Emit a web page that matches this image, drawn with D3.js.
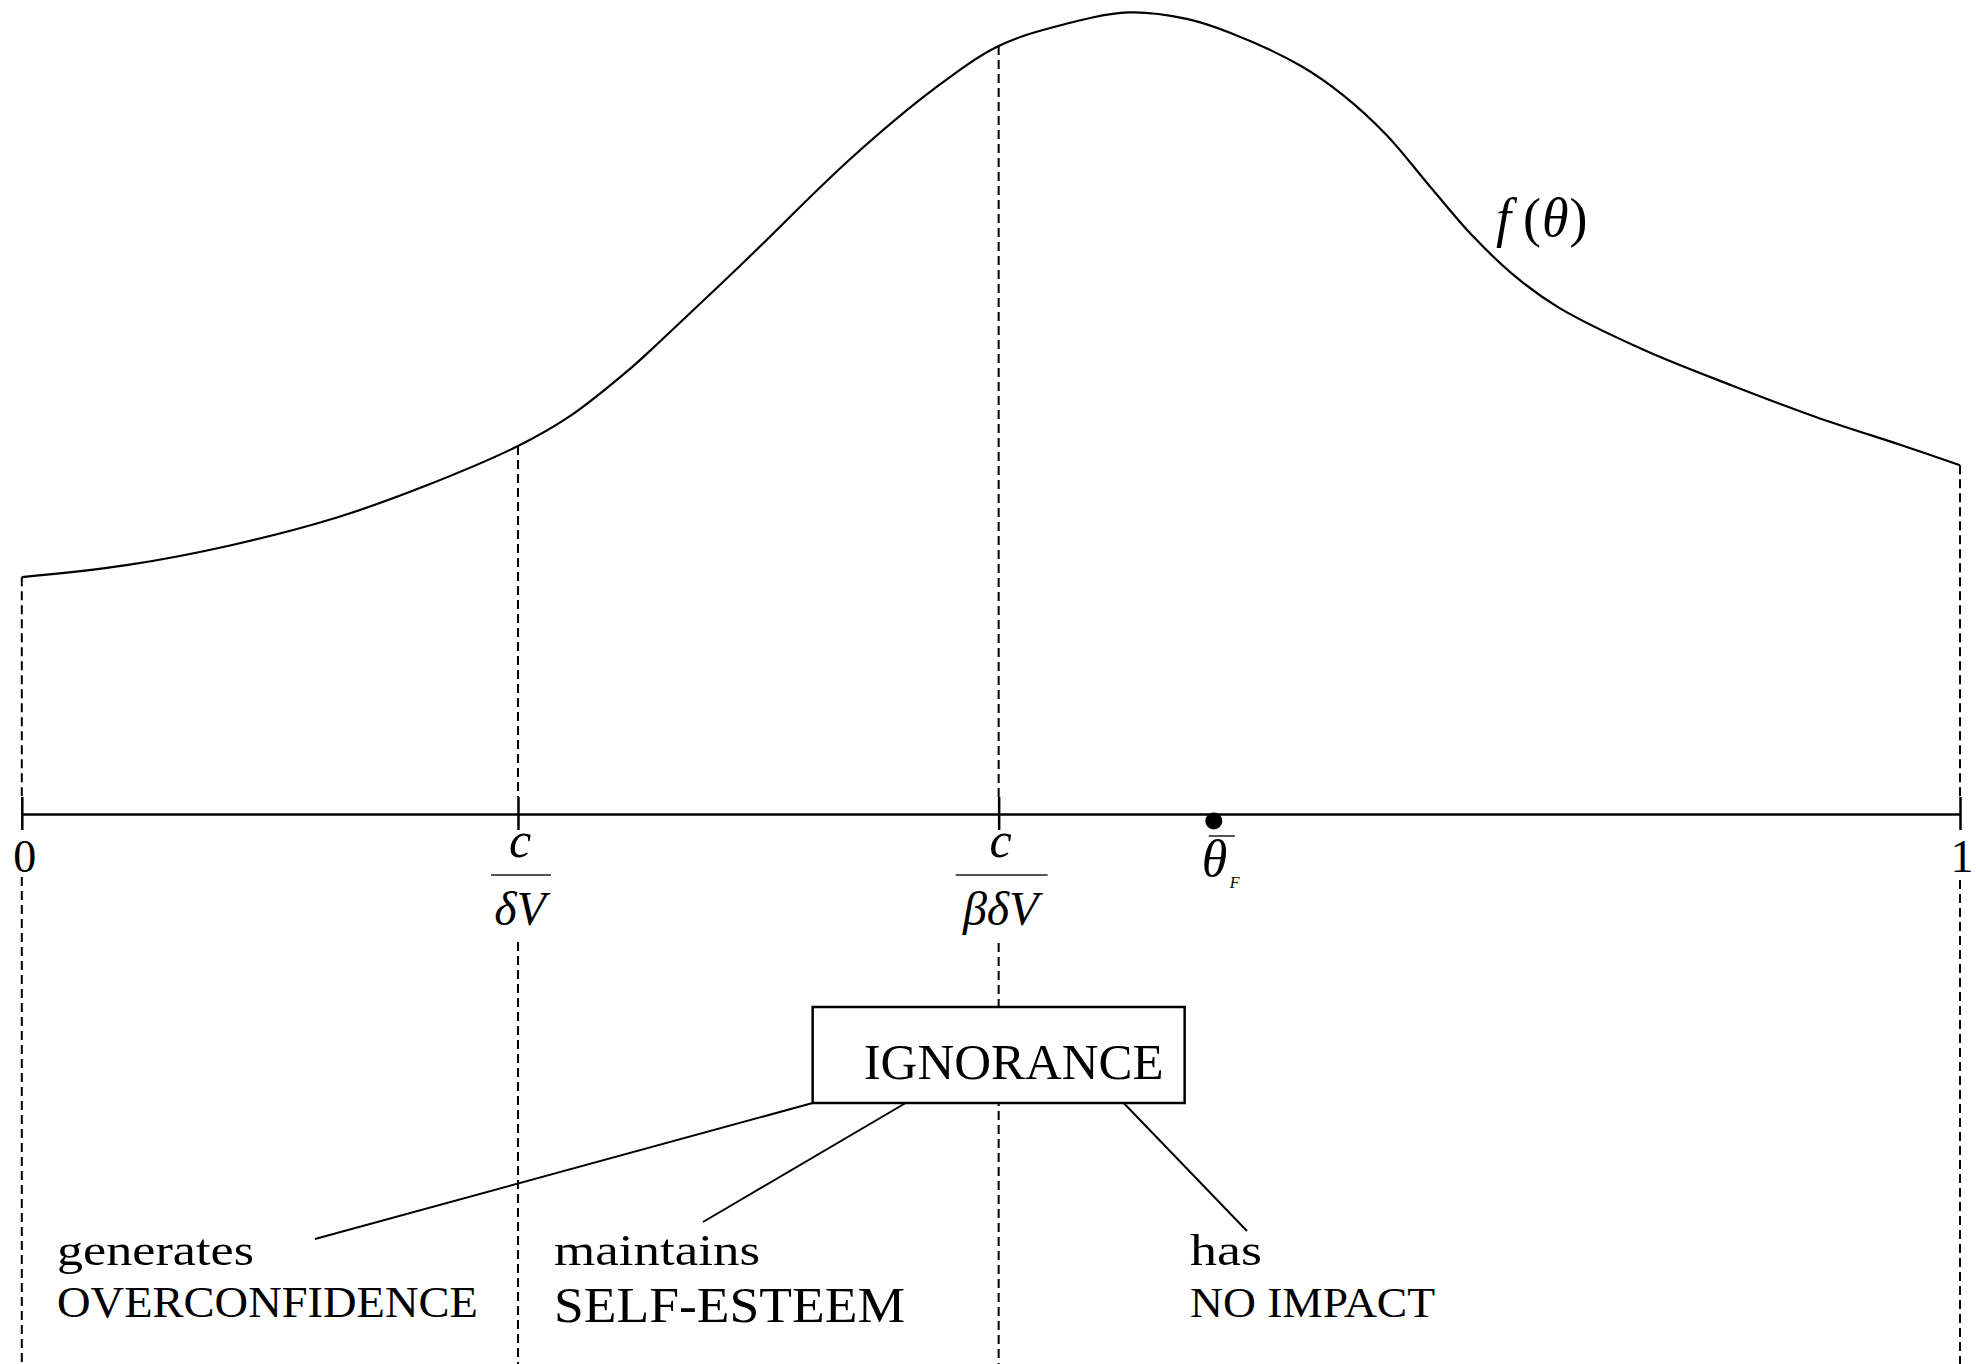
<!DOCTYPE html>
<html>
<head>
<meta charset="utf-8">
<script src="https://cdn.jsdelivr.net/npm/d3@7"></script>
<style>
  body { margin: 0; background: #fff; }
  text { font-family: "Liberation Serif", "Times New Roman", serif; fill: #000; }
  .math { font-style: italic; }
</style>
</head>
<body>
<div id="chart"></div>
<script>
// Density curve f(theta) (theta on [0,1], height relative to peak)
const theta   = [0, 0.054, 0.108, 0.163, 0.206, 0.256, 0.282, 0.315, 0.329, 0.373, 0.428, 0.471, 0.504,
                 0.536, 0.571, 0.601, 0.623, 0.660, 0.682, 0.704, 0.726, 0.748, 0.771, 0.793, 0.837,
                 0.882, 0.926, 0.971, 1];
const density = [0.296, 0.311, 0.336, 0.371, 0.408, 0.460, 0.496, 0.559, 0.590, 0.691, 0.820, 0.907, 0.960,
                 0.986, 1.002, 0.994, 0.977, 0.935, 0.898, 0.849, 0.786, 0.724, 0.671, 0.633, 0.580,
                 0.536, 0.496, 0.460, 0.436];

// Marked points on the theta axis
const markerTheta = [0, 0.256, 0.504, 1];
const markerNames = ["0", "c/δV", "c/βδV", "1"];
const thetaF = 0.615;

// Bottom annotations
const verbs   = ["generates", "maintains", "has"];
const effects = ["OVERCONFIDENCE", "SELF-ESTEEM", "NO IMPACT"];
const boxLabel = "IGNORANCE";

// Dimensions
const width = 1976, height = 1364;

const svg = d3.select("#chart")
  .append("svg")
    .attr("width", width)
    .attr("height", height)
    .attr("viewBox", `0 0 ${width} ${height}`);

const x = d3.scaleLinear().domain([0, 1]).range([21.8, 1960]);
const y = d3.scaleLinear().domain([0, 1]).range([814, 14]);
const axisY = y(0);

const points = theta.map((t, i) => ({t: t, f: density[i]}));
const fAt = t => points.find(p => p.t === t).f;

// dashed guides from curve down to the axis
const dash = "9,5";
svg.selectAll(".guide-top")
  .data(markerTheta)
  .join("line")
    .attr("class", "guide-top")
    .attr("x1", d => x(d)).attr("x2", d => x(d))
    .attr("y1", d => y(fAt(d))).attr("y2", axisY - 17)
    .attr("stroke", "#000").attr("stroke-width", 2)
    .attr("stroke-dasharray", dash);

// dashed guides below the labels
const guideStart = [877, 942, 943, 880];
svg.selectAll(".guide-bot")
  .data(markerTheta)
  .join("line")
    .attr("class", "guide-bot")
    .attr("x1", d => x(d)).attr("x2", d => x(d))
    .attr("y1", (d, i) => guideStart[i]).attr("y2", height)
    .attr("stroke", "#000").attr("stroke-width", 2)
    .attr("stroke-dasharray", dash);

// the density curve
const line = d3.line()
  .x(d => x(d.t))
  .y(d => y(d.f))
  .curve(d3.curveCatmullRom.alpha(0.5));

svg.append("path")
  .datum(points)
  .attr("fill", "none")
  .attr("stroke", "#000")
  .attr("stroke-width", 2.2)
  .attr("d", line);

// f(θ) label: italic f and θ, upright parentheses
const fLab = svg.append("text")
  .attr("x", 1496).attr("y", 236)
  .style("font-size", "54px");
fLab.append("tspan").attr("class", "math").text("f");
fLab.append("tspan").attr("dx", 12).text("(");
fLab.append("tspan").attr("class", "math").attr("dx", 1).text("θ");
fLab.append("tspan").attr("dx", 1).text(")");

// theta axis
const axis = svg.append("g")
  .attr("transform", `translate(0,${axisY})`)
  .call(d3.axisBottom(x).tickValues(markerTheta).tickSize(0).tickSizeOuter(0).tickFormat(""));
axis.select(".domain").attr("stroke", "#000").attr("stroke-width", 2.5);
axis.selectAll(".tick line")
  .attr("y1", -17).attr("y2", 16)
  .attr("stroke", "#000").attr("stroke-width", 2.5);

// axis labels
svg.append("text").attr("x", x(0) + 3).attr("y", 872)
  .attr("text-anchor", "middle").style("font-size", "46px").text(markerNames[0]);
svg.append("text").attr("x", x(1) + 2).attr("y", 872)
  .attr("text-anchor", "middle").style("font-size", "46px").text(markerNames[3]);

// fractions c/δV and c/βδV
const fracs = [
  {t: markerTheta[1], den: "δV", barW: 60},
  {t: markerTheta[2], den: "βδV", barW: 92}
];
fracs.forEach(fr => {
  const cx = x(fr.t);
  svg.append("text").attr("class", "math")
    .attr("x", cx + 2).attr("y", 857)
    .attr("text-anchor", "middle").style("font-size", "50px").text("c");
  svg.append("line")
    .attr("x1", cx - fr.barW / 2 + 3).attr("x2", cx + fr.barW / 2 + 3)
    .attr("y1", 875).attr("y2", 875)
    .attr("stroke", "#555").attr("stroke-width", 2);
  svg.append("text").attr("class", "math")
    .attr("x", cx + 2).attr("y", 925)
    .attr("text-anchor", "middle").style("font-size", "48px").text(fr.den);
});

// theta-bar_F point
svg.append("circle")
  .attr("cx", x(thetaF)).attr("cy", axisY + 7).attr("r", 8.5)
  .attr("fill", "#000");
svg.append("line")
  .attr("x1", x(thetaF) - 5).attr("x2", x(thetaF) + 21)
  .attr("y1", 836).attr("y2", 836)
  .attr("stroke", "#555").attr("stroke-width", 2);
svg.append("text").attr("class", "math")
  .attr("x", x(thetaF) - 12).attr("y", 876)
  .style("font-size", "52px").text("θ");
svg.append("text").attr("class", "math")
  .attr("x", x(thetaF) + 16).attr("y", 888)
  .style("font-size", "16px").text("F");

// IGNORANCE box centred on the c/βδV guide
const boxW = 372, boxH = 96, boxTop = 1007;
const boxX = x(markerTheta[2]) - boxW / 2;
svg.append("rect")
  .attr("x", boxX).attr("y", boxTop)
  .attr("width", boxW).attr("height", boxH)
  .attr("fill", "#fff").attr("stroke", "#000").attr("stroke-width", 2.5);
svg.append("text")
  .attr("x", boxX + 51).attr("y", 1079)
  .style("font-size", "50px")
  .attr("textLength", 300).attr("lengthAdjust", "spacingAndGlyphs")
  .text(boxLabel);

// connectors from the box to the three outcomes
const connFrom = [boxX, boxX + 93, boxX + 311];
const connTo   = [[315, 1239], [703, 1222], [1247, 1231]];
svg.selectAll(".conn")
  .data(connFrom)
  .join("line")
    .attr("class", "conn")
    .attr("x1", d => d).attr("y1", boxTop + boxH)
    .attr("x2", (d, i) => connTo[i][0]).attr("y2", (d, i) => connTo[i][1])
    .attr("stroke", "#000").attr("stroke-width", 2);

// outcome labels
const labelX = [57, 554, 1190];
const verbW = [197, 206, 72];
const effectW = [421, 351, 245];
const effectSize = [44, 50, 43];
const effectBase = [1317, 1322, 1317];
verbs.forEach((v, i) => {
  svg.append("text")
    .attr("x", labelX[i]).attr("y", 1265)
    .style("font-size", "45px")
    .attr("textLength", verbW[i]).attr("lengthAdjust", "spacingAndGlyphs")
    .text(v);
  svg.append("text")
    .attr("x", labelX[i]).attr("y", effectBase[i])
    .style("font-size", effectSize[i] + "px")
    .attr("textLength", effectW[i]).attr("lengthAdjust", "spacingAndGlyphs")
    .text(effects[i]);
});
</script>
</body>
</html>
